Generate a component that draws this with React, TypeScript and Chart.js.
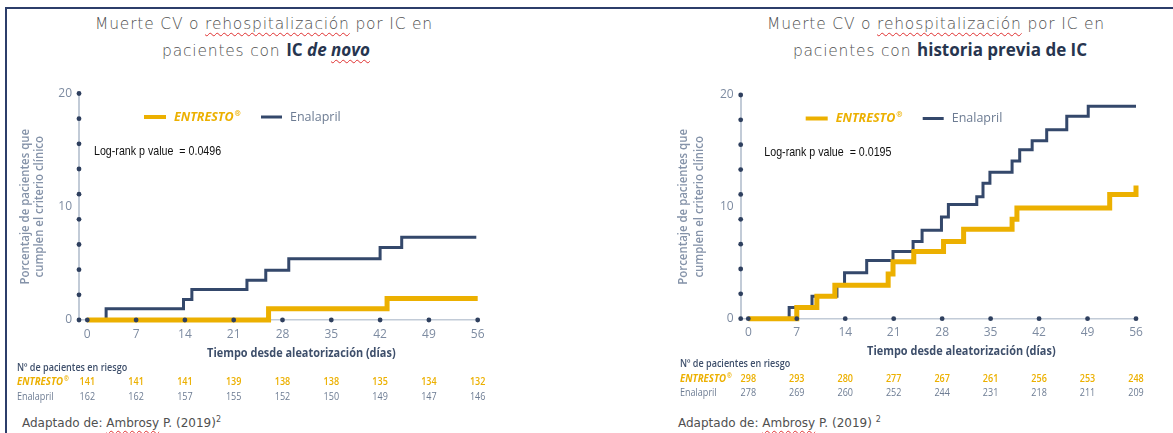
import React, { useEffect, useRef } from "react";
import { Chart, registerables } from "chart.js";

Chart.register(...registerables);

// ---------- shared axis data ----------
const DAY_TICKS = [0, 7, 14, 21, 28, 35, 42, 49, 56];
const Y_LABEL_TICKS = [0, 10, 20];
const Y_DOT_COUNT = 10;

// ---------- left panel: IC de novo ----------
const NOVO_ENTRESTO_DAYS = [0, 26, 43, 56];
const NOVO_ENTRESTO_PCT = [0, 1.0, 1.9, 1.9];
const NOVO_ENALAPRIL_DAYS = [0, 2.7, 13.8, 15, 22.9, 25.6, 28.9, 42, 45.1, 55.8];
const NOVO_ENALAPRIL_PCT = [0, 1.0, 1.8, 2.7, 3.5, 4.4, 5.4, 6.4, 7.3, 7.3];
const NOVO_RISK_ENTRESTO = [141, 141, 141, 139, 138, 138, 135, 134, 132];
const NOVO_RISK_ENALAPRIL = [162, 162, 157, 155, 152, 150, 149, 147, 146];
const NOVO_P_TEXT = "Log-rank p value  = 0.0496";

// ---------- right panel: historia previa de IC ----------
const PREV_ENTRESTO_DAYS = [0, 7.0, 9.9, 12.5, 20.2, 20.9, 23.9, 28.2, 31.1, 38.1, 38.8, 52.2, 56];
const PREV_ENTRESTO_PCT = [0, 1.0, 2.0, 3.0, 4.0, 5.1, 6.0, 6.9, 8.0, 8.9, 9.9, 11.1, 11.9];
const PREV_ENALAPRIL_DAYS = [0, 5.9, 9.2, 12.8, 13.9, 17.1, 20.9, 23.8, 25.1, 27.9, 28.9, 33.0, 33.9, 34.9, 38.1, 39.2, 41.0, 43.1, 46.0, 49.1, 56];
const PREV_ENALAPRIL_PCT = [0, 1.0, 2.0, 3.0, 4.1, 5.2, 6.0, 6.9, 7.9, 9.1, 10.2, 10.9, 12.1, 13.1, 14.1, 15.1, 15.9, 16.9, 18.1, 19.0, 19.0];
const PREV_RISK_ENTRESTO = [298, 293, 280, 277, 267, 261, 256, 253, 248];
const PREV_RISK_ENALAPRIL = [278, 269, 260, 252, 244, 231, 218, 211, 209];
const PREV_P_TEXT = "Log-rank p value  = 0.0195";

// ---------- styles ----------
const ORANGE = "#ECB000";
const NAVY = "#34486B";
const DOT = "#2E3F5E";
const AXIS = "#C2CBD7";
const TICK = "#7D8BA1";
const SLATE = "#6D7C93";
const YTITLE = "#8593A9";
const XTITLE = "#3E4F6B";
const SANS = "'Open Sans', 'Noto Sans', sans-serif";

type Panel = {
  entrestoDays: number[];
  entrestoPct: number[];
  enalaprilDays: number[];
  enalaprilPct: number[];
  riskEntresto: number[];
  riskEnalapril: number[];
  pText: string;
  left: number;
  top: number;
  width: number;
  height: number;
  area: { left: number; top: number; right: number; bottom: number };
  xMin: number;
  pPos: [number, number];
  yTitleX: [number, number];
  table: { header: number; row1: number; row2: number; labelX: number };
  xTitleDy: number;
};

const PANELS: Panel[] = [
  {
    entrestoDays: NOVO_ENTRESTO_DAYS,
    entrestoPct: NOVO_ENTRESTO_PCT,
    enalaprilDays: NOVO_ENALAPRIL_DAYS,
    enalaprilPct: NOVO_ENALAPRIL_PCT,
    riskEntresto: NOVO_RISK_ENTRESTO,
    riskEnalapril: NOVO_RISK_ENALAPRIL,
    pText: NOVO_P_TEXT,
    left: 10,
    top: 70,
    width: 500,
    height: 340,
    area: { left: 69, top: 23.5, right: 467.7, bottom: 250 },
    xMin: -1.19,
    pPos: [15, 57.5],
    yTitleX: [-53, -39.5],
    table: { header: 47.7, row1: 62.3, row2: 76.7, labelX: -62 },
    xTitleDy: 34,
  },
  {
    entrestoDays: PREV_ENTRESTO_DAYS,
    entrestoPct: PREV_ENTRESTO_PCT,
    enalaprilDays: PREV_ENALAPRIL_DAYS,
    enalaprilPct: PREV_ENALAPRIL_PCT,
    riskEntresto: PREV_RISK_ENTRESTO,
    riskEnalapril: PREV_RISK_ENALAPRIL,
    pText: PREV_P_TEXT,
    left: 668,
    top: 70,
    width: 500,
    height: 340,
    area: { left: 72.7, top: 25, right: 468, bottom: 248.7 },
    xMin: -1.1,
    pPos: [23.6, 57.7],
    yTitleX: [-57, -41.5],
    table: { header: 45.3, row1: 60.6, row2: 74.6, labelX: -60.7 },
    xTitleDy: 33,
  },
];

function steps(days: number[], pct: number[]) {
  return days.map((d, i) => ({ x: d, y: pct[i] }));
}

function txt(
  ctx: CanvasRenderingContext2D,
  s: string,
  x: number,
  y: number,
  font: string,
  color: string,
  align: CanvasTextAlign = "left",
  sx = 1,
  rot = 0
) {
  ctx.save();
  ctx.translate(x, y);
  if (rot) ctx.rotate(rot);
  ctx.scale(sx, 1);
  ctx.font = font;
  ctx.fillStyle = color;
  ctx.textAlign = align;
  ctx.textBaseline = "middle";
  ctx.fillText(s, 0, 0);
  ctx.restore();
}

function brand(ctx: CanvasRenderingContext2D, x: number, y: number, size: number, sx: number) {
  ctx.save();
  ctx.translate(x, y);
  ctx.scale(sx, 1);
  ctx.font = `italic 700 ${size}px ${SANS}`;
  ctx.fillStyle = ORANGE;
  ctx.textBaseline = "middle";
  ctx.textAlign = "left";
  ctx.fillText("ENTRESTO", 0, 0);
  const w = ctx.measureText("ENTRESTO").width;
  ctx.font = `italic 700 ${size * 0.6}px ${SANS}`;
  ctx.fillText("®", w + 1, -size * 0.28);
  ctx.restore();
}

function overlay(p: Panel) {
  return {
    id: "overlay",
    afterDraw(chart: any) {
      const ctx: CanvasRenderingContext2D = chart.ctx;
      const a = chart.chartArea;
      const xs = chart.scales.x;
      const ys = chart.scales.y;
      ctx.save();
      // axis dots
      ctx.fillStyle = DOT;
      for (let i = 0; i < Y_DOT_COUNT; i++) {
        const v = (20 * i) / (Y_DOT_COUNT - 1);
        ctx.beginPath();
        ctx.arc(a.left, ys.getPixelForValue(v), 2.4, 0, Math.PI * 2);
        ctx.fill();
      }
      for (const d of DAY_TICKS) {
        ctx.beginPath();
        ctx.arc(xs.getPixelForValue(d), a.bottom, 2.4, 0, Math.PI * 2);
        ctx.fill();
      }
      // legend
      const ly = a.top + 23.5;
      ctx.lineCap = "butt";
      ctx.strokeStyle = ORANGE;
      ctx.lineWidth = 4;
      ctx.beginPath();
      ctx.moveTo(a.left + 65, ly);
      ctx.lineTo(a.left + 87, ly);
      ctx.stroke();
      brand(ctx, a.left + 95, ly, 12.5, 1);
      ctx.strokeStyle = NAVY;
      ctx.lineWidth = 3;
      ctx.beginPath();
      ctx.moveTo(a.left + 182, ly);
      ctx.lineTo(a.left + 203, ly);
      ctx.stroke();
      txt(ctx, "Enalapril", a.left + 211, ly, `400 12.5px ${SANS}`, SLATE);
      // p value
      txt(ctx, p.pText, a.left + p.pPos[0], a.top + p.pPos[1], `400 13px 'Liberation Sans', Arial, sans-serif`, "#111", "left", 0.82);
      // y title
      const cy = (a.top + a.bottom) / 2;
      txt(ctx, "Porcentaje de pacientes que", a.left + p.yTitleX[0], cy, `600 12px ${SANS}`, YTITLE, "center", 0.95, -Math.PI / 2);
      txt(ctx, "cumplen el criterio clínico", a.left + p.yTitleX[1], cy, `600 12px ${SANS}`, YTITLE, "center", 0.95, -Math.PI / 2);
      // x title
      txt(ctx, "Tiempo desde aleatorización (días)", (a.left + a.right) / 2 + 23, a.bottom + p.xTitleDy, `700 11.5px ${SANS}`, XTITLE, "center", 0.95);
      // risk table
      const lx = a.left + p.table.labelX;
      txt(ctx, "Nº de pacientes en riesgo", lx, a.bottom + p.table.header, `600 10.5px ${SANS}`, XTITLE, "left", 0.86);
      brand(ctx, lx, a.bottom + p.table.row1, 10.5, 0.92);
      txt(ctx, "Enalapril", lx, a.bottom + p.table.row2, `400 10.5px ${SANS}`, SLATE, "left", 0.86);
      DAY_TICKS.forEach((d, i) => {
        const x = xs.getPixelForValue(d);
        txt(ctx, String(p.riskEntresto[i]), x, a.bottom + p.table.row1, `600 10.5px ${SANS}`, ORANGE, "center", 0.86);
        txt(ctx, String(p.riskEnalapril[i]), x, a.bottom + p.table.row2, `400 10.5px ${SANS}`, SLATE, "center", 0.86);
      });
      ctx.restore();
    },
  };
}

function KMChart({ p }: { p: Panel }) {
  const ref = useRef<HTMLCanvasElement>(null);
  useEffect(() => {
    const cv = ref.current;
    if (!cv) return;
    const xAxisH = 30;
    const chart = new Chart(cv, {
      type: "line",
      data: {
        datasets: [
          {
            label: "ENTRESTO®",
            data: steps(p.entrestoDays, p.entrestoPct),
            stepped: "before",
            borderColor: ORANGE,
            borderWidth: 5,
            pointRadius: 0,
            fill: false,
            clip: false,
            borderCapStyle: "butt",
            borderJoinStyle: "miter",
          },
          {
            label: "Enalapril",
            data: steps(p.enalaprilDays, p.enalaprilPct),
            stepped: "before",
            borderColor: NAVY,
            borderWidth: 3,
            pointRadius: 0,
            fill: false,
            clip: false,
            borderJoinStyle: "miter",
          },
        ],
      },
      options: {
        responsive: false,
        animation: false,
        devicePixelRatio: 1,
        layout: {
          padding: {
            left: 0,
            top: p.area.top,
            right: p.width - p.area.right,
            bottom: p.height - p.area.bottom - xAxisH,
          },
        },
        plugins: { legend: { display: false }, tooltip: { enabled: false }, title: { display: false } },
        scales: {
          x: {
            type: "linear",
            min: p.xMin,
            max: 56,
            grid: { display: false, drawTicks: false },
            border: { display: true, color: AXIS, width: 1.5 },
            ticks: { color: TICK, font: { family: SANS, size: 12 }, padding: 7, maxRotation: 0 },
            afterBuildTicks: (s: any) => {
              s.ticks = DAY_TICKS.map((v) => ({ value: v }));
            },
            afterFit: (s: any) => {
              s.height = xAxisH;
            },
          },
          y: {
            type: "linear",
            min: 0,
            max: 20,
            grid: { display: false, drawTicks: false },
            border: { display: true, color: AXIS, width: 2 },
            ticks: { color: TICK, font: { family: SANS, size: 12 }, padding: 7 },
            afterBuildTicks: (s: any) => {
              s.ticks = Y_LABEL_TICKS.map((v) => ({ value: v }));
            },
            afterFit: (s: any) => {
              s.width = p.area.left;
            },
          },
        },
      } as any,
      plugins: [overlay(p)],
    });
    return () => chart.destroy();
  }, [p]);
  return (
    <canvas
      ref={ref}
      width={p.width}
      height={p.height}
      style={{ position: "absolute", left: p.left, top: p.top, width: p.width, height: p.height }}
    />
  );
}

const squiggle: React.CSSProperties = {
  textDecorationLine: "underline",
  textDecorationStyle: "wavy",
  textDecorationColor: "#E03030",
  textDecorationThickness: "1px",
  textUnderlineOffset: "3px",
};

const TITLE_FONT = "'DejaVu Sans', 'Liberation Sans', sans-serif";

const titleLine = (centerX: number, centerY: number): React.CSSProperties => ({
  position: "absolute",
  left: centerX - 300,
  top: centerY - 14,
  width: 600,
  height: 28,
  textAlign: "center",
  fontFamily: TITLE_FONT,
  fontSize: 15.5,
  fontWeight: 300,
  letterSpacing: "0.8px",
  lineHeight: "28px",
  color: "#505050",
  whiteSpace: "nowrap",
});

const boldPart: React.CSSProperties = {
  fontWeight: 700,
  color: "#27354F",
  fontFamily: SANS,
  fontSize: 17,
  letterSpacing: 0,
};

const footer = (left: number): React.CSSProperties => ({
  position: "absolute",
  left,
  top: 412,
  fontFamily: TITLE_FONT,
  fontSize: 12,
  lineHeight: "16px",
  color: "#505050",
  whiteSpace: "nowrap",
});

export default function App() {
  return (
    <div style={{ position: "absolute", left: 0, top: 0, width: 1173, height: 433, background: "#fff", overflow: "hidden" }}>
      <div
        style={{
          position: "absolute",
          left: 5,
          top: 7,
          width: 1200,
          height: 440,
          borderTop: "2px solid #2C3E6A",
          borderLeft: "2px solid #2C3E6A",
        }}
      />
      <div style={titleLine(264, 24)}>
        Muerte CV o <span style={squiggle}>rehospitalización</span> por IC en
      </div>
      <div style={titleLine(266, 50)}>
        pacientes con <span style={boldPart}>IC </span>
        <span style={{ ...boldPart, fontStyle: "italic" }}>
          de <span style={squiggle}>novo</span>
        </span>
      </div>
      <div style={titleLine(936, 24)}>
        Muerte CV o <span style={squiggle}>rehospitalización</span> por IC en
      </div>
      <div style={titleLine(940, 50)}>
        pacientes con <span style={boldPart}>historia previa de IC</span>
      </div>
      {PANELS.map((p, i) => (
        <KMChart key={i} p={p} />
      ))}
      <div style={footer(22)}>
        Adaptado de: <span style={squiggle}>Ambrosy</span> P. (2019)<sup style={{ fontSize: 8 }}>2</sup>
      </div>
      <div style={footer(678)}>
        Adaptado de: <span style={squiggle}>Ambrosy</span> P. (2019) <sup style={{ fontSize: 8 }}>2</sup>
      </div>
    </div>
  );
}
